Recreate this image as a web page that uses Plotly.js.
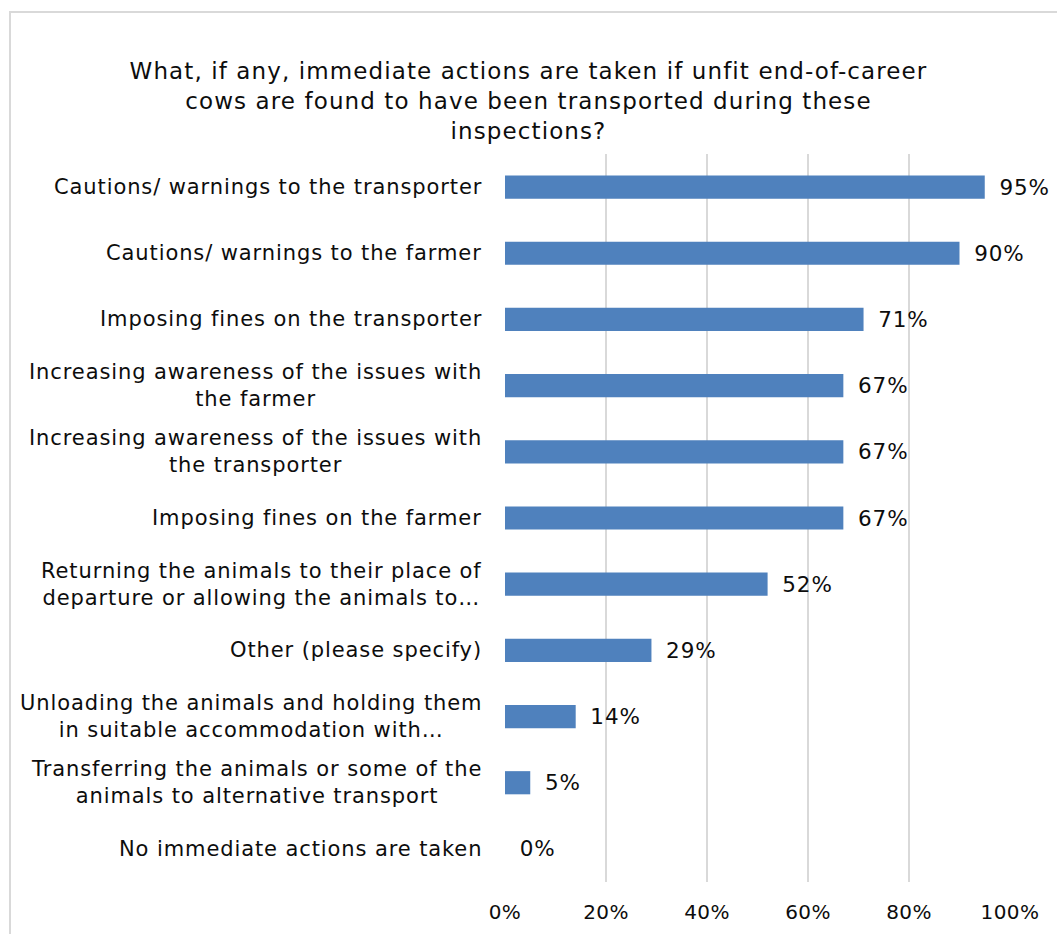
<!DOCTYPE html>
<html>
<head>
<meta charset="utf-8">
<script src="https://cdn.plot.ly/plotly-3.0.1.min.js"></script>
<style>
  html, body { margin: 0; padding: 0; background: #fff; }
  #wrap { position: relative; width: 1057px; height: 934px; overflow: hidden; }
  #chart { width: 1057px; height: 934px; }
  #frame { position: absolute; left: 9px; top: 11px; width: 1200px; height: 1200px;
           border: 2px solid #d9d9d9; pointer-events: none; box-sizing: border-box; }
  .gtitle { letter-spacing: 1.1px; }
  .annotation-text { letter-spacing: 0.9px; }
  .bartext { letter-spacing: 0.9px; }
  .xtick text { letter-spacing: 0.4px; }
</style>
</head>
<body>
<div id="wrap">
  <div id="chart"></div>
  <div id="frame"></div>
</div>
<script>
const categories = [
  "Cautions/ warnings to the transporter",
  "Cautions/ warnings to the farmer",
  "Imposing fines on the transporter",
  "Increasing awareness of the issues with<br>the farmer",
  "Increasing awareness of the issues with<br>the transporter",
  "Imposing fines on the farmer",
  "Returning the animals to their place of<br>departure or allowing the animals to…",
  "Other (please specify)",
  "Unloading the animals and holding them<br>in suitable accommodation with…",
  "Transferring the animals or some of the<br>animals to alternative transport",
  "No immediate actions are taken"
];
const values = [0.95, 0.90, 0.71, 0.67, 0.67, 0.67, 0.52, 0.29, 0.14, 0.05, 0.00];
const valueLabels = ["95%", "90%", "71%", "67%", "67%", "67%", "52%", "29%", "14%", "5%", "0%"];
const tickVals = [0, 0.2, 0.4, 0.6, 0.8, 1.0];
const tickText = ["0%", "20%", "40%", "60%", "80%", "100%"];
const titleText = "What, if any, immediate actions are taken if unfit end-of-career<br>cows are found to have been transported during these<br>inspections?";

const FONT = "DejaVu Sans, Verdana, sans-serif";
const TXT = "#0d0d0d";

const trace = {
  type: "bar",
  orientation: "h",
  x: values,
  y: categories,
  width: 0.35,
  marker: { color: "#4f81bd" },
  text: valueLabels.map(s => "\u2002" + s),
  textposition: "outside",
  constraintext: "none",
  textfont: { family: FONT, size: 21.5, color: TXT },
  cliponaxis: false,
  hoverinfo: "none"
};

const annotations = categories.map(c => ({
  xref: "paper", yref: "y",
  x: 0, y: c,
  xanchor: "right", yanchor: "middle",
  xshift: -21,
  text: c,
  align: "center",
  showarrow: false,
  font: { family: FONT, size: 21, color: TXT }
}));

const layout = {
  width: 1057, height: 934,
  margin: { l: 505, r: 47, t: 154, b: 52 },
  paper_bgcolor: "#ffffff",
  plot_bgcolor: "#ffffff",
  showlegend: false,
  title: {
    text: titleText,
    font: { family: FONT, size: 23, color: TXT },
    x: 0.5, xref: "container", xanchor: "center",
    y: 1 - 79 / 934, yref: "container", yanchor: "top"
  },
  xaxis: {
    range: [0, 1],
    tickvals: tickVals,
    ticktext: tickText,
    showgrid: true,
    gridcolor: "#d9d9d9",
    gridwidth: 2,
    zeroline: false,
    showline: false,
    ticks: "",
    tickfont: { family: FONT, size: 20, color: TXT },
    ticklabelstandoff: 16,
    fixedrange: true
  },
  yaxis: {
    type: "category",
    autorange: "reversed",
    range: [10.5, -0.5],
    showticklabels: false,
    showgrid: false,
    zeroline: false,
    showline: false,
    ticks: "",
    fixedrange: true
  },
  annotations: annotations
};

Plotly.newPlot("chart", [trace], layout, { displayModeBar: false, staticPlot: true });
</script>
</body>
</html>
